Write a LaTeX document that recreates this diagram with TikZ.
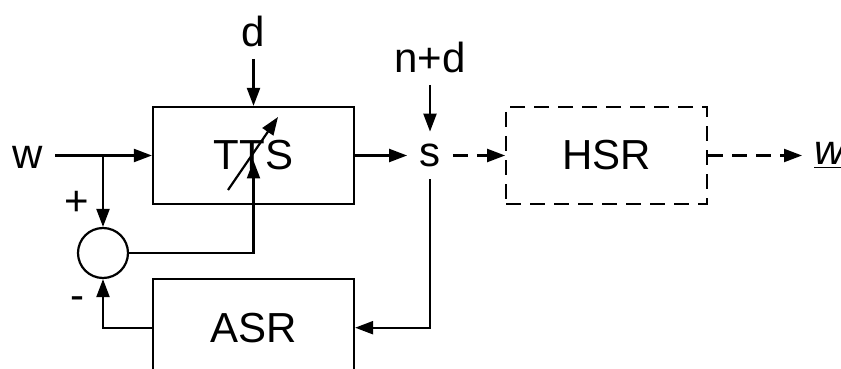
\documentclass[tikz,border=0pt]{standalone}
\usepackage{fontspec}
\setmainfont{Liberation Sans}
\usetikzlibrary{arrows.meta, positioning, calc}

\begin{document}
\begin{tikzpicture}[
		x=0.5pt, y=-0.5pt,
		font=\fontsize{21}{25}\selectfont,
		block/.style={rectangle, draw=black, line width=1.1pt, minimum width=100.5pt, minimum height=48.5pt, inner sep=0pt, align=center},
		sum/.style={circle, draw=black, line width=1.1pt, minimum size=25pt, inner sep=0pt},
		signal/.style={inner sep=6pt},
		arrow/.style={-{Triangle[length=9pt, width=6.5pt]}, line width=1.1pt},
		dasharrow/.style={arrow, dash pattern=on 7.5pt off 4.5pt}
		]
		\useasboundingbox (0,0) rectangle (841,369);
		
		% Blocks of the chain
		\node[block] (tts) at (253.5,155.5) {TTS};
		\node[block, dash pattern=on 7.5pt off 4.5pt, right=75pt of tts] (hsr) {HSR};
		\node[block, below=36.5pt of tts] (asr) {ASR};
		\node[sum] (sum) at (103,253) {};
		
		% Signals
		\node[signal] (w) at (27.5,157) {w};
		\node[signal] (d) at (253.5,31) {d};
		\node[signal] (s) at (430,155.5) {s};
		\node[signal] (nd) at (430,57) {n+d};
		\node[signal, anchor=west] (wout) at (802,155.5) {\underline{\textit{w}}};
		\node (plus) at (77,203) {+};
		\node (minus) at (77,303) {-};
		\coordinate (split) at (103,155.5);
		
		% Forward path
		\draw[arrow] (w.east |- split) -- (tts.west);
		\draw[arrow] (d) -- (d |- tts.north);
		\draw[arrow] (tts.east) -- (s.west);
		\draw[arrow] (nd) -- (s);
		\draw[dasharrow] (s.east) -- (hsr.west);
		\draw[dasharrow] (hsr.east) -- (wout.west);
		
		% Feedback through ASR and comparison
		\draw[arrow] (split) -- (sum);
		\draw[arrow] (s) |- (asr.east);
		\draw[arrow] (asr.west) -| (sum.south);
		\draw[arrow] (sum.east) -| ([yshift=-2.5pt]tts.center);
		
		% Adjustable TTS
		\draw[arrow] ($(tts.center)+(-25.5,34.5)$) -- ($(tts.center)+(24.5,-38.5)$);
		
	\end{tikzpicture}
\end{document}
